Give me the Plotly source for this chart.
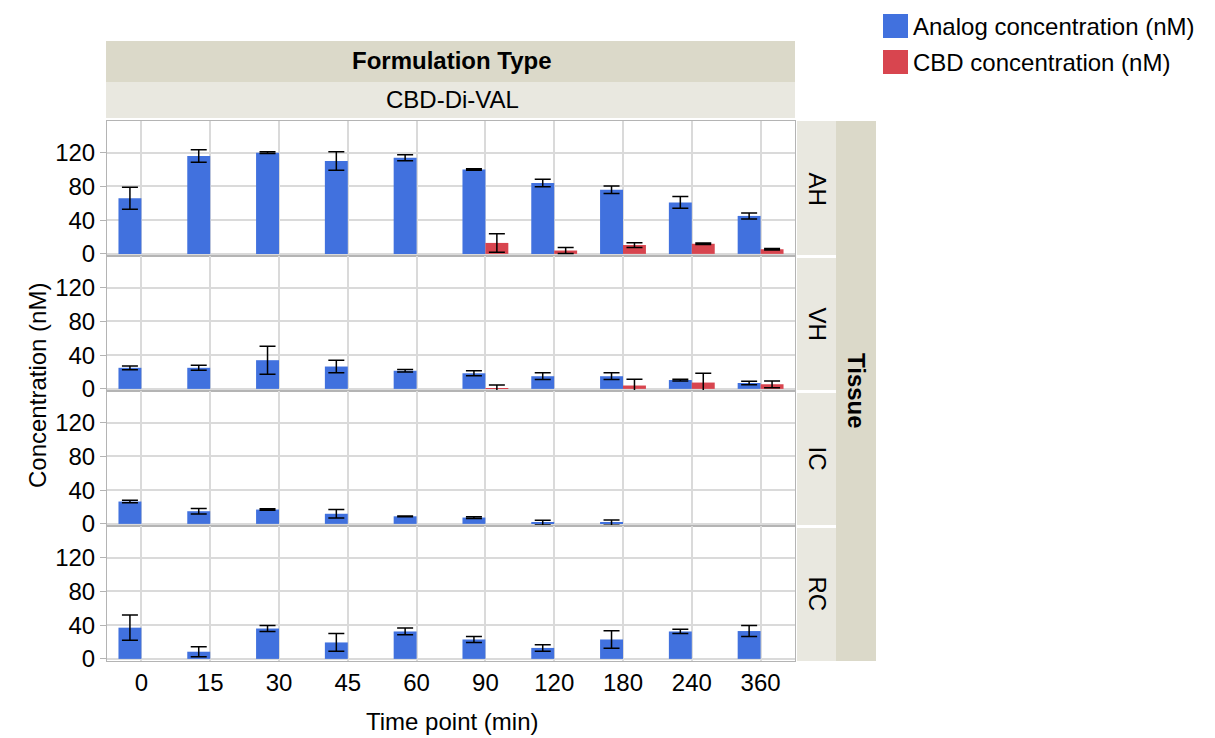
import plotly.graph_objects as go
from plotly.subplots import make_subplots

# ---------------- data ----------------
time_points = ["0", "15", "30", "45", "60", "90", "120", "180", "240", "360"]
tissues = ["AH", "VH", "IC", "RC"]

analog_AH = [66, 116, 120, 110, 114, 100, 84, 76, 61, 45]
analog_AH_err = [13, 7.5, 1, 11, 3.5, 1, 4.5, 4.5, 7, 3.5]
cbd_AH = [None, None, None, None, None, 13, 4, 10.5, 12, 5.5]
cbd_AH_err = [None, None, None, None, None, 11, 3.5, 2.8, 1, 1]

analog_VH = [25, 25, 34, 26.5, 21.5, 18.5, 15, 15, 10.5, 7]
analog_VH_err = [2.2, 3, 16.5, 7.5, 1.5, 3, 4, 4, 1, 2]
cbd_VH = [None, None, None, None, None, 1, None, 4, 7.5, 5.5]
cbd_VH_err = [None, None, None, None, None, 3.5, None, 7.5, 11, 4]

analog_IC = [26.5, 15, 17, 12, 9, 7.5, 1.5, 1.5, None, None]
analog_IC_err = [1.5, 3.3, 0.8, 5, 0.5, 1, 2.8, 3, None, None]
cbd_IC = [None] * 10
cbd_IC_err = [None] * 10

analog_RC = [37, 8.5, 36, 19.5, 32.5, 23, 13, 23, 32.5, 33]
analog_RC_err = [15, 6, 3.5, 10.5, 4, 3.5, 3.8, 10.5, 2.5, 6.5]
cbd_RC = [None] * 10
cbd_RC_err = [None] * 10

analog = [analog_AH, analog_VH, analog_IC, analog_RC]
analog_err = [analog_AH_err, analog_VH_err, analog_IC_err, analog_RC_err]
cbd = [cbd_AH, cbd_VH, cbd_IC, cbd_RC]
cbd_err = [cbd_AH_err, cbd_VH_err, cbd_IC_err, cbd_RC_err]

y_ticks = [0, 40, 80, 120]
series_names = ["Analog concentration (nM)", "CBD concentration (nM)"]
header_top = "Formulation Type"
header_sub = "CBD-Di-VAL"
strip_title = "Tissue"
x_title = "Time point (min)"
y_title = "Concentration (nM)"

# ---------------- style ----------------
BLUE = "#4171DE"
RED = "#D8454F"
DARK_STRIP = "#DBD9C9"
LIGHT_STRIP = "#E9E8E0"
GRID = "#DADADA"
AXIS = "#B4B4B4"
FONT = "Liberation Sans"
FS = 24

W, H = 1215, 738
L, R, T, B = 107, 795, 121, 661  # plot area in px

def px(x):
    return (x - L) / (R - L)

def py(y):
    return (B - y) / (B - T)

fig = make_subplots(rows=4, cols=1, shared_xaxes=True, vertical_spacing=0)

for i in range(4):
    fig.add_trace(go.Bar(
        x=time_points, y=analog[i], name=series_names[0],
        marker=dict(color=BLUE, line=dict(width=0)),
        error_y=dict(type="data", array=analog_err[i], color="black", thickness=1.5, width=8),
        showlegend=False), row=i + 1, col=1)
    fig.add_trace(go.Bar(
        x=time_points, y=cbd[i], name=series_names[1],
        marker=dict(color=RED, line=dict(width=0)),
        error_y=dict(type="data", array=cbd_err[i], color="black", thickness=1.5, width=8),
        showlegend=False), row=i + 1, col=1)
    fig.update_yaxes(range=[-2.5, 157.5], tickvals=y_ticks, showgrid=True, gridcolor=GRID,
                     gridwidth=1.5, zeroline=False, showline=True, linecolor=AXIS, linewidth=1,
                     mirror=True, ticks="outside", ticklen=6, tickcolor=AXIS,
                     tickfont=dict(family=FONT, size=FS, color="black"), row=i + 1, col=1)
    fig.update_xaxes(showgrid=True, gridcolor=GRID, gridwidth=1.5, showline=True, linecolor=AXIS,
                     linewidth=1, mirror=True, ticks="", showticklabels=(i == 3),
                     tickfont=dict(family=FONT, size=FS, color="black"), row=i + 1, col=1)

shapes = []
annotations = []

def ann(text, x, y, angle=0, xanchor="center"):
    annotations.append(dict(text=text, xref="paper", yref="paper", x=px(x), y=py(y),
                            xanchor=xanchor, yanchor="middle", textangle=angle, showarrow=False,
                            font=dict(family=FONT, size=FS, color="black")))

# top headers
shapes.append(dict(type="rect", xref="paper", yref="paper", x0=px(106), x1=px(795), y0=py(82), y1=py(41),
                   fillcolor=DARK_STRIP, line=dict(width=0), layer="below"))
shapes.append(dict(type="rect", xref="paper", yref="paper", x0=px(106), x1=px(795), y0=py(118), y1=py(82),
                   fillcolor=LIGHT_STRIP, line=dict(width=0), layer="below"))
ann("<b>%s</b>" % header_top, 452, 61)
ann(header_sub, 452, 100)

# right strips
shapes.append(dict(type="rect", xref="paper", yref="paper", x0=px(836), x1=px(876), y0=py(661), y1=py(121),
                   fillcolor=DARK_STRIP, line=dict(width=0), layer="below"))
panel_h = (B - T) / 4
for i, t in enumerate(tissues):
    top = T + i * panel_h + (0 if i == 0 else 2)
    bot = T + (i + 1) * panel_h - (0 if i == 3 else 1)
    shapes.append(dict(type="rect", xref="paper", yref="paper", x0=px(797), x1=px(836), y0=py(bot), y1=py(top),
                       fillcolor=LIGHT_STRIP, line=dict(width=0), layer="below"))
    ann(t, 817, T + (i + 0.5) * panel_h, angle=90)
ann("<b>%s</b>" % strip_title, 857, 391, angle=90)

# axis titles
ann(y_title, 37, 386, angle=-90)
ann(x_title, 452, 721)

# legend
for j, (name, col) in enumerate(zip(series_names, [BLUE, RED])):
    cy = 26 + 36 * j
    shapes.append(dict(type="rect", xref="paper", yref="paper", x0=px(883), x1=px(908),
                       y0=py(cy + 12), y1=py(cy - 12), fillcolor=col, line=dict(width=0)))
    ann(name, 911, cy, xanchor="left")

fig.update_layout(
    width=W, height=H,
    margin=dict(l=L, r=W - R, t=T, b=H - B, pad=0),
    paper_bgcolor="white", plot_bgcolor="white",
    barmode="group", bargap=1 / 3, bargroupgap=0,
    shapes=shapes, annotations=annotations,
    showlegend=False,
    font=dict(family=FONT, size=FS, color="black"),
)

fig.write_html("out.html")
